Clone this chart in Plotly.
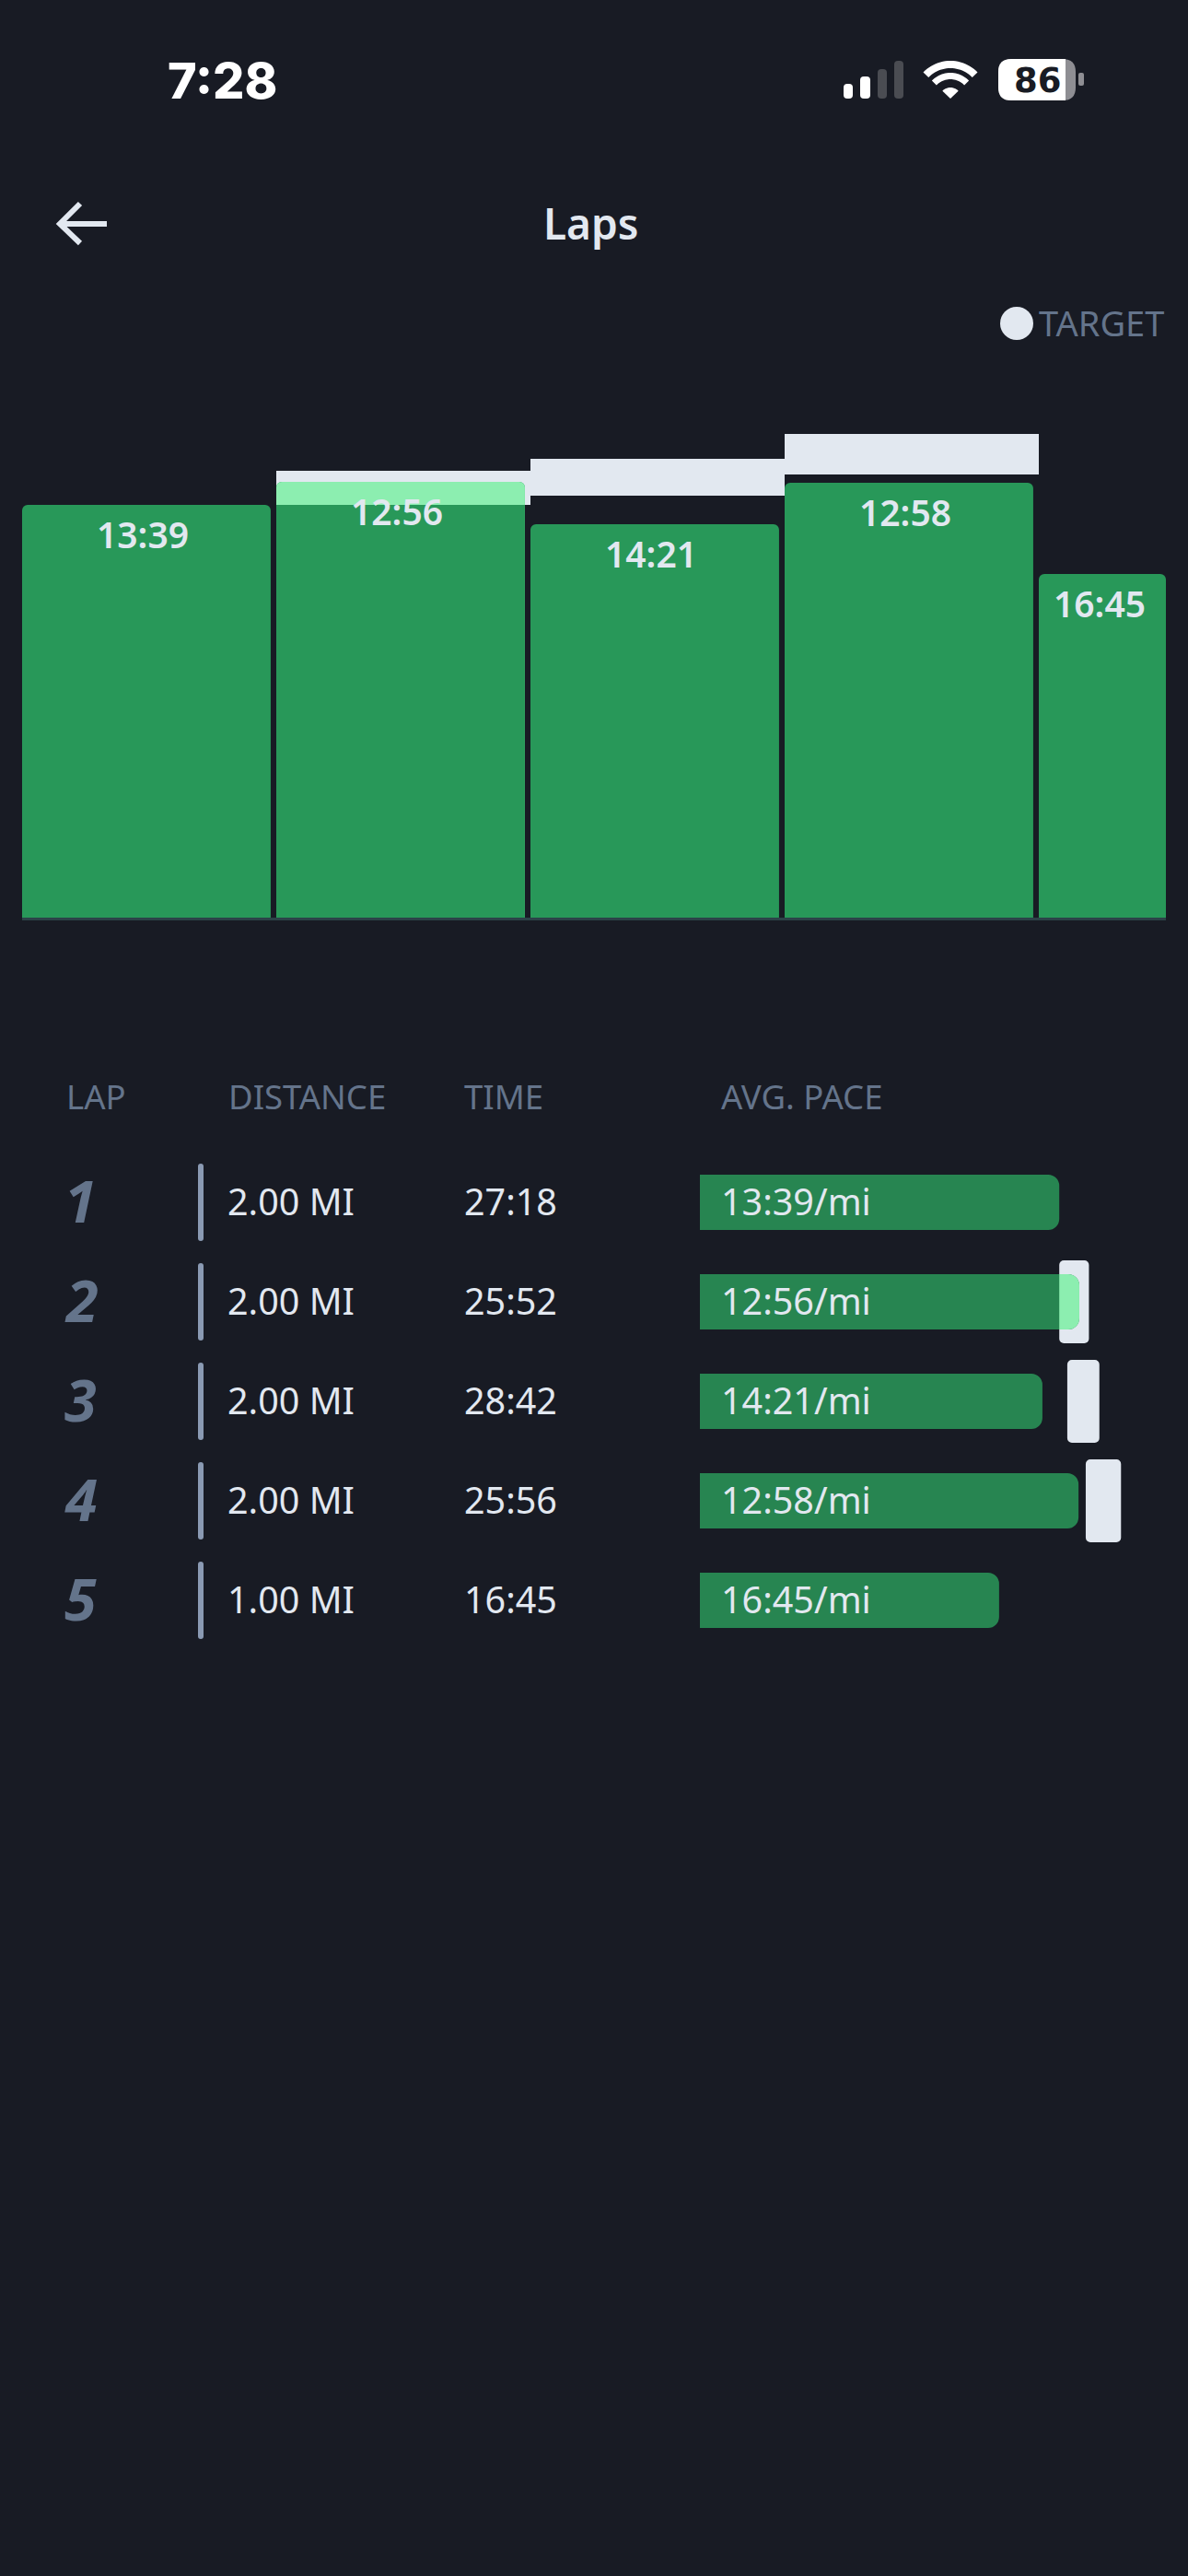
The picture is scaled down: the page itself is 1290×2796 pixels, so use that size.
import numpy as np
import plotly.graph_objects as go

PAGE_W = 1290
PAGE_H = 2796

# lap data
laps = [1, 2, 3, 4, 5]
distance_mi = [2.0, 2.0, 2.0, 2.0, 1.0]
distance_labels = ["2.00 MI", "2.00 MI", "2.00 MI", "2.00 MI", "1.00 MI"]
time_labels = ["27:18", "25:52", "28:42", "25:56", "16:45"]
pace_labels = ["13:39", "12:56", "14:21", "12:58", "16:45"]
speed_score = [4.48, 4.73, 4.27, 4.72, 3.73]
target_low = [None, 4.48, 4.58, 4.81, None]
target_high = [None, 4.85, 4.98, 5.25, None]
headers = ["LAP", "DISTANCE", "TIME", "AVG. PACE"]

BG = "#181B24"
GREEN_TOP = "#289859"
GREEN_ROW = "#278551"
MINT = "#8CEEB0"
TARGET = "#E2E8F0"
SLATE = "#64748B"
DIVIDER = "#8A9AB3"
FONT = "Noto Sans"


def px(x):
    return x / PAGE_W


def py(y):
    return 1 - y / PAGE_H


def rounded_path(x0, y0, x1, y1, r):
    # rounded rectangle in page pixels, for the status bar icons
    pts = [
        f"M{px(x0 + r)},{py(y0)}", f"L{px(x1 - r)},{py(y0)}", f"Q{px(x1)},{py(y0)} {px(x1)},{py(y0 + r)}",
        f"L{px(x1)},{py(y1 - r)}", f"Q{px(x1)},{py(y1)} {px(x1 - r)},{py(y1)}",
        f"L{px(x0 + r)},{py(y1)}", f"Q{px(x0)},{py(y1)} {px(x0)},{py(y1 - r)}",
        f"L{px(x0)},{py(y0 + r)}", f"Q{px(x0)},{py(y0)} {px(x0 + r)},{py(y0)}", "Z",
    ]
    return " ".join(pts)


def fan_path(cx, cy, r_in, r_out, half_angle=46):
    # one band of the wifi icon, as a polygon
    ang = np.radians(np.linspace(-half_angle, half_angle, 25))
    xs = list(cx + r_out * np.sin(ang)) + list(cx + r_in * np.sin(ang[::-1]))
    ys = list(cy - r_out * np.cos(ang)) + list(cy - r_in * np.cos(ang[::-1]))
    return "M" + " L".join(f"{px(a)},{py(b)}" for a, b in zip(xs, ys)) + " Z"


def filled(path, color):
    return dict(type="path", xref="paper", yref="paper", path=path, fillcolor=color, line=dict(width=0))


def page_text(x, y, text, size, color, anchor="left", weight=400, family=FONT):
    return dict(xref="paper", yref="paper", x=px(x), y=py(y), text=text, showarrow=False,
                xanchor=anchor, yanchor="middle",
                font=dict(family=family, size=size, color=color, weight=weight))


lap_start = np.concatenate([[0], np.cumsum(distance_mi)[:-1]])
bar_width = [d - 0.044 if i < len(laps) - 1 else d for i, d in enumerate(distance_mi)]
has_target = [i for i in range(len(laps)) if target_low[i] is not None]
overlaps = [i for i in has_target if speed_score[i] > target_low[i]]

fig = go.Figure()

# each layer sits on its own copy of the axes: plotly only rounds the outermost bar of a pair,
# and the subplots are painted in axis order

# top chart: bar width is the lap distance, height is the pace
fig.add_trace(go.Bar(
    x=[lap_start[i] for i in has_target],
    y=[target_high[i] - target_low[i] for i in has_target],
    base=[target_low[i] for i in has_target],
    width=[distance_mi[i] for i in has_target],
    offset=0,
    marker=dict(color=TARGET, line_width=0),
    xaxis="x", yaxis="y",
))
fig.add_trace(go.Bar(
    x=lap_start,
    y=speed_score,
    width=bar_width,
    offset=0,
    marker=dict(color=GREEN_TOP, line_width=0, cornerradius=6),
    xaxis="x2", yaxis="y2",
))
fig.add_trace(go.Bar(
    x=[lap_start[i] for i in overlaps],
    y=[speed_score[i] for i in overlaps],
    width=[bar_width[i] for i in overlaps],
    offset=0,
    marker=dict(color=MINT, line_width=0, cornerradius=6),
    xaxis="x3", yaxis="y3",
))
fig.add_trace(go.Bar(
    x=[lap_start[i] for i in overlaps],
    y=[target_low[i] for i in overlaps],
    width=[bar_width[i] for i in overlaps],
    offset=0,
    marker=dict(color=GREEN_TOP, line_width=0),
    xaxis="x3", yaxis="y3",
))

# table rows
fig.add_trace(go.Bar(
    y=[laps[i] for i in has_target],
    x=[target_high[i] - target_low[i] for i in has_target],
    base=[target_low[i] for i in has_target],
    width=0.833,
    orientation="h",
    marker=dict(color=TARGET, line_width=0, cornerradius=5),
    xaxis="x4", yaxis="y4",
))
fig.add_trace(go.Bar(
    y=laps,
    x=speed_score,
    width=0.556,
    orientation="h",
    marker=dict(color=GREEN_ROW, line_width=0, cornerradius=12),
    xaxis="x5", yaxis="y5",
))
fig.add_trace(go.Bar(
    y=[laps[i] for i in overlaps],
    x=[speed_score[i] for i in overlaps],
    width=0.556,
    orientation="h",
    marker=dict(color=MINT, line_width=0, cornerradius=12),
    xaxis="x6", yaxis="y6",
))
fig.add_trace(go.Bar(
    y=[laps[i] for i in overlaps],
    x=[target_low[i] for i in overlaps],
    width=0.556,
    orientation="h",
    marker=dict(color=GREEN_ROW, line_width=0),
    xaxis="x6", yaxis="y6",
))

annotations = []

# pace labels inside the top bars
for i, lap in enumerate(laps):
    annotations.append(dict(
        xref="x2", yref="y2", x=lap_start[i] + bar_width[i] / 2, y=speed_score[i], xshift=-3.5, yshift=-31,
        text=pace_labels[i], showarrow=False, xanchor="center", yanchor="middle",
        font=dict(family=FONT, size=39, color=TARGET, weight=600),
    ))

# header row
for x, label in zip([70, 246, 502, 781], headers):
    annotations.append(page_text(x, 1190, label, 36.5, SLATE))

# table text
for i, lap in enumerate(laps):
    annotations.append(dict(
        xref="paper", yref="y5", x=px(68), y=lap, yshift=3, text=str(lap), showarrow=False,
        xanchor="left", yanchor="middle",
        font=dict(family=FONT, size=63, color=SLATE, weight=700, style="italic"),
    ))
    for x, label in ((245, distance_labels[i]), (502, time_labels[i]), (780.5, pace_labels[i] + "/mi")):
        annotations.append(dict(
            xref="paper", yref="y5", x=px(x), y=lap, yshift=1.5, text=label, showarrow=False,
            xanchor="left", yanchor="middle",
            font=dict(family=FONT, size=39.5, color=TARGET),
        ))

# status bar, nav bar and the target key
annotations += [
    page_text(241, 87, "7:28", 54, "#FFFFFF", "center", 800, "Inter"),
    page_text(1127, 87, "86", 37, BG, "center", 700, "DejaVu Sans"),
    page_text(642, 241.5, "Laps", 46, TARGET, "center", 600),
    page_text(1126, 350, "TARGET", 38, SLATE),
]

shapes = []
for x0, x1, top, col in [(916, 926, 91, "#FFFFFF"), (934, 945, 83, "#FFFFFF"),
                         (953, 963, 75, "#4A4C52"), (971, 981, 66, "#4A4C52")]:
    shapes.append(filled(rounded_path(x0, top, x1, 107, 4), col))
for r_in, r_out in [(33, 41), (21, 28), (0, 12)]:
    shapes.append(filled(fan_path(1032, 107, r_in, r_out), "#FFFFFF"))
shapes += [
    filled(rounded_path(1084, 64, 1168, 109, 14), "#8E8E93"),
    filled(rounded_path(1084, 64, 1157, 109, 14), "#FFFFFF"),
    filled(rounded_path(1130, 64, 1157, 109, 0.1), "#FFFFFF"),
    filled(rounded_path(1171, 79, 1177, 93, 2), "#8E8E93"),
    dict(type="path", xref="paper", yref="paper",
         path=f"M{px(87)},{py(221)} L{px(65)},{py(243)} L{px(87)},{py(264)} "
              f"M{px(65)},{py(243)} L{px(116)},{py(243)}",
         line=dict(color=TARGET, width=6)),
    dict(type="circle", xref="paper", yref="paper", x0=px(1086), x1=px(1122), y0=py(333), y1=py(369),
         fillcolor=TARGET, line=dict(width=0)),
]

# dividers between the lap number and the distance
for lap in laps:
    mid_y = 1305 + 108 * (lap - 1)
    shapes.append(filled(rounded_path(215, mid_y - 42, 221, mid_y + 42, 3), DIVIDER))

top_x = dict(domain=[px(24), px(1266)], range=[0, 9], visible=False)
top_y = dict(domain=[py(996), py(396)], range=[0, 6], visible=False)
row_x = dict(domain=[px(760), px(1282.6)], range=[0, 6], visible=False)
row_y = dict(domain=[py(1791), py(1251)], range=[5.5, 0.5], visible=False)

fig.update_layout(
    width=PAGE_W,
    height=PAGE_H,
    margin=dict(l=0, r=0, t=0, b=0),
    paper_bgcolor=BG,
    plot_bgcolor="rgba(0,0,0,0)",
    barmode="overlay",
    showlegend=False,
    hovermode=False,
    annotations=annotations,
    shapes=shapes,
    xaxis=dict(top_x, anchor="y"),
    yaxis=dict(top_y, anchor="x"),
    xaxis2=dict(top_x, anchor="y2", visible=True, showticklabels=False, ticks="", showgrid=False,
                zeroline=False, showline=True, linecolor="#2C4248", linewidth=3),
    yaxis2=dict(top_y, anchor="x2"),
    xaxis3=dict(top_x, anchor="y3"),
    yaxis3=dict(top_y, anchor="x3"),
    xaxis4=dict(row_x, anchor="y4"),
    yaxis4=dict(row_y, anchor="x4"),
    xaxis5=dict(row_x, anchor="y5"),
    yaxis5=dict(row_y, anchor="x5"),
    xaxis6=dict(row_x, anchor="y6"),
    yaxis6=dict(row_y, anchor="x6"),
)

fig.write_html("out.html", config=dict(displayModeBar=False),
               post_script="document.body.style.margin='0';")
